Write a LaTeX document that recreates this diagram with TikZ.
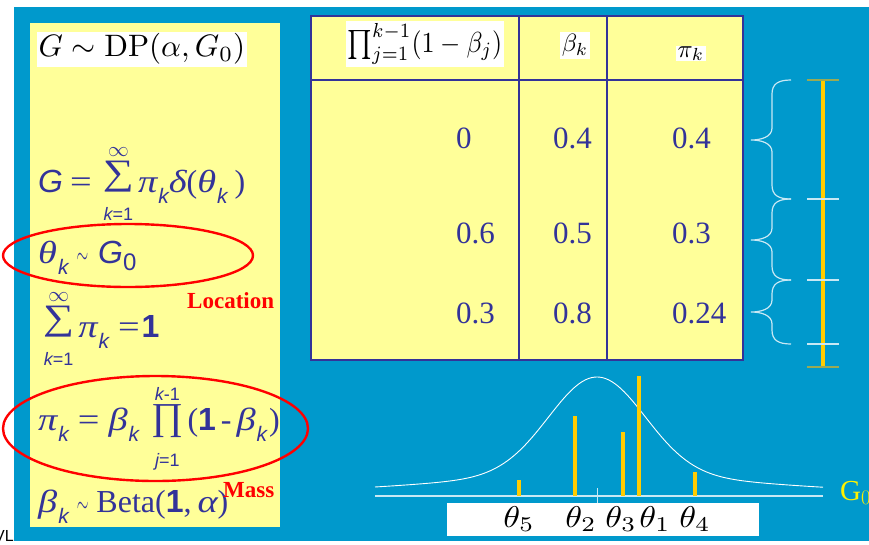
\documentclass[tikz,border=0pt]{standalone}
\usepackage{amsmath}
\usepackage{graphicx}
\usepackage[no-math]{fontspec}
\setmainfont{Liberation Serif}
\setsansfont{Liberation Sans}

\definecolor{slideblue}{HTML}{0099CC}
\definecolor{paleyellow}{HTML}{FFFF99}
\definecolor{inkblue}{HTML}{333399}
\definecolor{baryellow}{HTML}{FFCC00}
\definecolor{bracewhite}{HTML}{C8E8F4}
\definecolor{tickolive}{HTML}{99AA55}

% pieces of the slide formulas (set at 32pt)
\newcommand\tx[1]{\hbox{#1}}
\newcommand\gk[1]{\hbox{\itshape\scalebox{1.2}[1]{#1}}}
\newcommand\sv[1]{\hbox{\sffamily\itshape #1}}
\newcommand\one{\hbox{\sffamily\bfseries 1}}
\newcommand\eq{\hbox{\scalebox{1.2}[1]{=}}}
\newcommand\tilt{\hbox{\fontsize{10}{12}\selectfont\scalebox{1.5}[2.8]{$\sim$}}}
\newcommand\subk{\hbox{\kern1pt\raisebox{-11pt}{\fontsize{21}{21}\selectfont\sffamily\itshape k}}}
\newcommand\limlow[1]{\hbox{\rule{0pt}{24pt}\fontsize{18}{18}\selectfont\sffamily #1}}
\newcommand\limup[1]{\hbox{\fontsize{18}{18}\selectfont\sffamily #1}}
\newcommand\infsym{\hbox{\fontsize{20}{20}\selectfont$\infty$}}
\newcommand\bigsum{\mathop{\hbox{\raisebox{\depth}{\resizebox*{31pt}{31pt}{∑}}}}\limits}
\newcommand\bigprod{\mathop{\hbox{\raisebox{\dimexpr\depth-8pt\relax}{\resizebox*{32pt}{33pt}{∏}}}}\limits}
\newcommand\bigmath[3]{\scalebox{#1}[#2]{$#3$}}
% brace with its tip to the left: top, tip, bottom
\newcommand\slidebrace[3]{%
  \draw[brace line] (791,#1) .. controls (778,#1) and (772,{#1+4}) .. (772,{#1+14})
    -- (772,{#2-12}) .. controls (772,{#2-3}) and (761,#2) .. (751,#2)
    .. controls (761,#2) and (772,{#2+3}) .. (772,{#2+12})
    -- (772,{#3-14}) .. controls (772,{#3-4}) and (778,#3) .. (791,#3);}

\begin{document}
\begin{tikzpicture}[x=1pt, y=-1pt,
    eqn/.style={text=inkblue, font=\fontsize{32}{34}\selectfont, inner sep=0pt, anchor=base west},
    num/.style={text=inkblue, font=\fontsize{31}{33}\selectfont, inner sep=0pt, anchor=base west},
    whitebox/.style={fill=white, text=black, inner sep=2pt, font=\fontsize{10}{12}\selectfont},
    tag/.style={text=red, font=\fontsize{23}{25}\selectfont\bfseries, inner sep=0pt, anchor=base west},
    ring/.style={draw=red, line width=2.4pt},
    brace line/.style={draw=bracewhite, line width=1.2pt},
    bar/.style={draw=baryellow, line width=4pt},
    tick/.style={line width=1.6pt},
    grid line/.style={draw=inkblue, line width=1.2pt},
    theta label/.style={text=black, font=\fontsize{10}{12}\selectfont, inner sep=0pt, anchor=base}]

    \clip (0,0) rectangle (869,544);
    \fill[white] (0,0) rectangle (869,544);
    \fill[slideblue] (14,7) rectangle (869,541);
    \node[font=\sffamily\fontsize{16}{16}\selectfont, anchor=base east, inner sep=0pt] (vl) at (14,541) {VL};

    % left panel
    \fill[paleyellow] (30,23) rectangle (280,527);
    \node[whitebox] (dp) at (142,49) {\bigmath{3.1}{3.1}{G\sim\mathrm{DP}(\alpha,G_0)}};
    \node[eqn] (gsum) at (38,192) {$\sv{G}\hspace{7pt}\eq\hspace{7pt}\bigsum^{\infsym}_{\limlow{\itshape k\upshape =1}}\gk{π}\subk\gk{δ}\tx{(}\gk{θ}\subk\hspace{7pt}\tx{)}$};
    \node[eqn] (atom) at (38,263) {$\gk{θ}\subk\hspace{8pt}\tilt\hspace{10pt}\sv{G}\hbox{\raisebox{-7pt}{\fontsize{24}{24}\selectfont\sffamily 0}}$};
    \node[eqn] (msum) at (43,337) {$\bigsum^{\infsym}_{\limlow{\itshape k\upshape =1}}\gk{π}\subk\hspace{9pt}\eq\hspace{2pt}\one$};
    \node[eqn] (stick) at (38,430) {$\gk{π}\subk\hspace{9pt}\eq\hspace{9pt}\gk{β}\subk\hspace{8pt}\bigprod^{\limup{\itshape k\upshape -1}}_{\limlow{\itshape j\upshape =1}}\tx{(}\one\hspace{5pt}\tx{-}\hspace{5pt}\gk{β}\subk\hspace{2pt}\tx{)}$};
    \node[eqn] (beta) at (38,512) {$\gk{β}\subk\hspace{8pt}\tilt\hspace{8pt}\tx{Beta(}\one\tx{,}\hspace{6pt}\gk{α}\tx{)}$};
    \node[tag] (loc) at (187,308) {Location};
    \node[tag] (mass) at (223,497) {Mass};
    \draw[ring] (128,255.5) ellipse [x radius=125, y radius=31.5];
    \draw[ring] (155.5,428.5) ellipse [x radius=152.5, y radius=52.5];

    % table
    \draw[grid line, fill=paleyellow] (311,16) rectangle (743,360);
    \draw[grid line] (311,80) -- (743,80);
    \draw[grid line] (519,16) -- (519,360);
    \draw[grid line] (607,16) -- (607,360);
    \node[whitebox] (hprod) at (425,44) {\bigmath{2.6}{2.9}{\prod_{j=1}^{k-1}(1-\beta_j)}};
    \node[whitebox] (hbeta) at (575,45.5) {\bigmath{2.5}{2.5}{\beta_k}};
    \node[whitebox, inner ysep=0pt] (hpi) at (691,53.5) {\bigmath{2.5}{2.5}{\pi_k}};
    \foreach \r/\yy/\a/\b/\c in {1/148/0/0.4/0.4, 2/243/0.6/0.5/0.3, 3/323/0.3/0.8/0.24} {
        \node[num] (p\r) at (456,\yy) {\a};
        \node[num] (b\r) at (553,\yy) {\b};
        \node[num] (w\r) at (672,\yy) {\c};
    }

    % stick of unit length
    \slidebrace{80}{140}{199}
    \slidebrace{199}{240}{280}
    \slidebrace{280}{312}{344}
    \draw[bar] (823,80) -- (823,367);
    \foreach \ty in {199,280,344} \draw[tick, bracewhite] (807,\ty) -- (839,\ty);
    \foreach \ty in {80,367} \draw[tick, tickolive] (807,\ty) -- (839,\ty);

    % base measure and atoms
    \draw[bracewhite, line width=1.2pt] (375,496) -- (823,496);
    \draw[bracewhite, line width=0.8pt] (597,488) -- (597,503);
    \draw[white, line width=0.9pt, domain=375:823, samples=150]
        plot (\x, {493-98*exp(-((\x-597)/48)^2/2)-18*exp(-((\x-597)/150)^2/2)});
    \foreach \bx/\by in {519/480, 575/416, 623/432, 639/376, 695/472}
        \draw[bar] (\bx,496) -- (\bx,\by);
    \fill[white] (447,503) rectangle (759,536);
    \foreach \lx/\ln in {519/5, 581/2, 621/3, 655/1, 695/4}
        \node[theta label] (t\ln) at (\lx,527) {\bigmath{3.4}{3.0}{\theta_{\ln}}};
    \node[text=yellow, font=\fontsize{29}{31}\selectfont, inner sep=0pt, anchor=base west] (gzero) at (840,500) {G$_0$};
\end{tikzpicture}
\end{document}
